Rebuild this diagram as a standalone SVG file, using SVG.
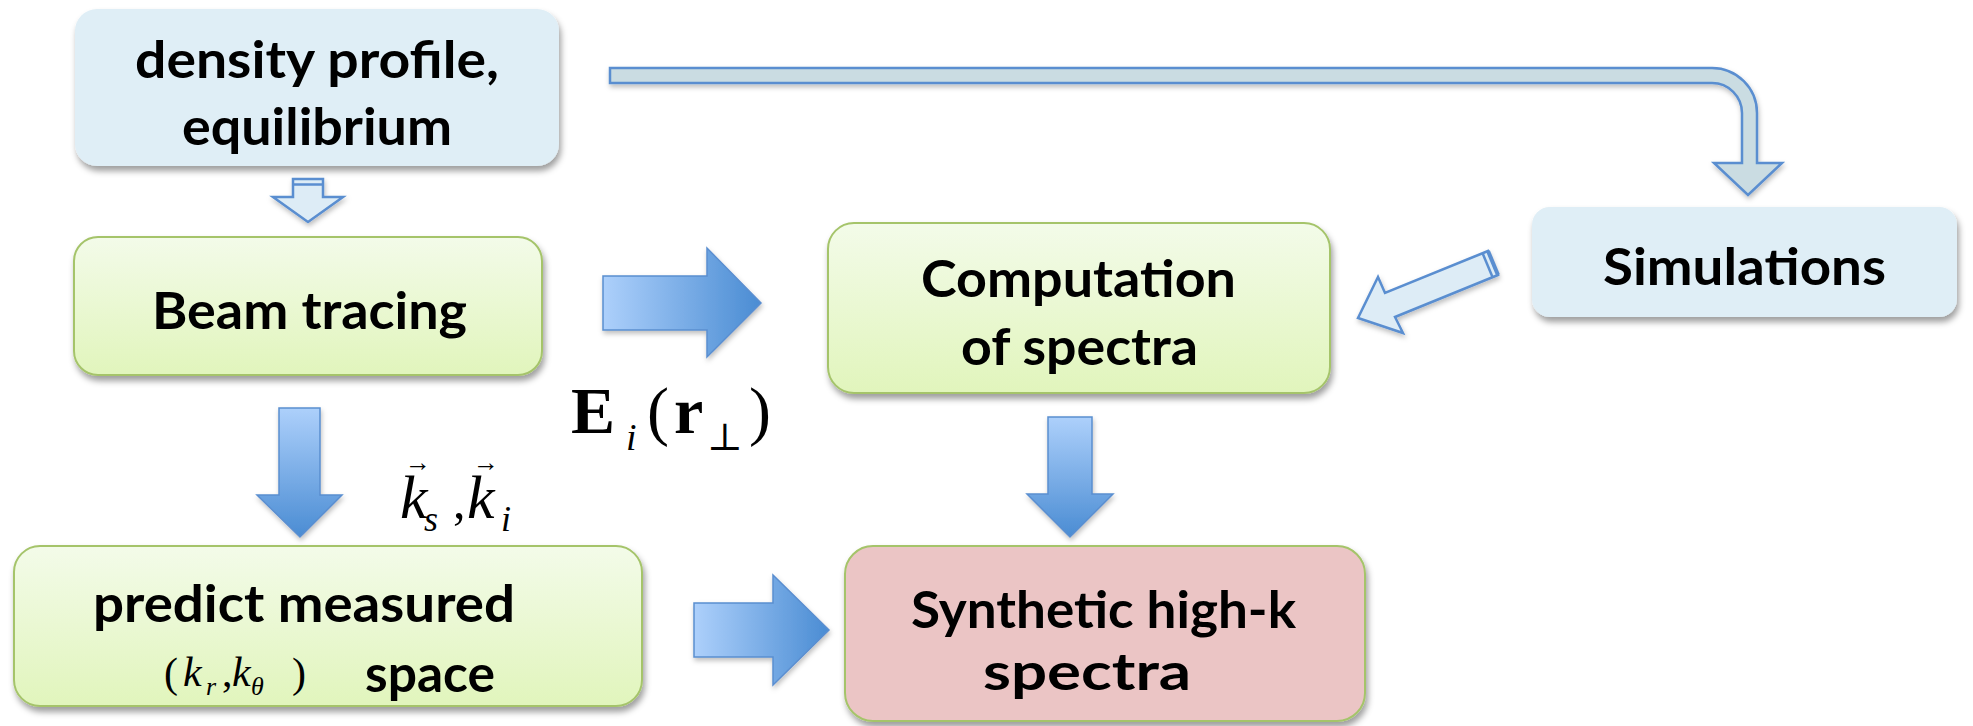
<svg xmlns="http://www.w3.org/2000/svg" width="1973" height="726" viewBox="0 0 1973 726">
  <defs>
    <linearGradient id="greenFill" x1="0" y1="0" x2="0" y2="1">
      <stop offset="0" stop-color="#F3FBE9"/>
      <stop offset="1" stop-color="#E1F5BC"/>
    </linearGradient>
    <linearGradient id="arrowH" x1="0" y1="0" x2="1" y2="0">
      <stop offset="0" stop-color="#ADD0FB"/>
      <stop offset="1" stop-color="#4A8CD3"/>
    </linearGradient>
    <linearGradient id="arrowV" x1="0" y1="0" x2="0" y2="1">
      <stop offset="0" stop-color="#ADD0FB"/>
      <stop offset="1" stop-color="#4A8CD3"/>
    </linearGradient>
    <filter id="shadow" x="-10%" y="-10%" width="120%" height="130%">
      <feDropShadow dx="2" dy="5" stdDeviation="3" flood-color="#000" flood-opacity="0.38"/>
    </filter>
    <filter id="softShadow" x="-10%" y="-10%" width="130%" height="130%">
      <feDropShadow dx="1" dy="3" stdDeviation="2.5" flood-color="#000" flood-opacity="0.25"/>
    </filter>
  </defs>
  <style>
    .box-blue { fill: #DFEEF6; filter: url(#shadow); }
    .box-green { fill: url(#greenFill); stroke: #A5C46B; stroke-width: 2; filter: url(#shadow); }
    .box-pink { fill: #EBC5C5; stroke: #A5C46B; stroke-width: 2; filter: url(#shadow); }
    .label { font-family: Lato, "Open Sans", "Liberation Sans", sans-serif; font-weight: bold; font-size: 52px; fill: #000; }
    .math { font-family: "Liberation Serif", "DejaVu Serif", serif; fill: #000; }
    .solid-h { fill: url(#arrowH); stroke: #5A8ED0; stroke-width: 1.5; filter: url(#softShadow); }
    .solid-v { fill: url(#arrowV); stroke: #5A8ED0; stroke-width: 1.5; filter: url(#softShadow); }
    .hollow { fill: #DDECF6; stroke: #5A8ED0; stroke-width: 2.5; stroke-linejoin: miter; filter: url(#softShadow); }
    .bent { fill: #CADCE2; stroke: #5A8ED0; stroke-width: 2.5; filter: url(#softShadow); }
    .band { stroke: #5A8ED0; stroke-width: 2.5; fill: none; }
  </style>

  <rect width="1973" height="726" fill="#FFFFFF"/>

  <!-- connectors -->
  <g id="connectors">
    <!-- bent arrow: density profile -> Simulations -->
    <path class="bent" d="M610,68 H1712 A45,45 0 0 1 1757,113 V163 H1782 L1748,195 L1714,163 H1742 V113 A30,30 0 0 0 1712,83 H610 Z"/>
    <!-- short hollow arrow: density profile -> Beam tracing -->
    <path class="hollow" d="M293,179 H323 V197 H343 L308,222 L273,197 H293 Z"/>
    <line class="band" x1="293" y1="184.5" x2="323" y2="184.5"/>
    <!-- diagonal hollow arrow: Simulations -> Computation -->
    <path class="hollow" d="M1488,251 L1385,293 L1378,277 L1358,318 L1403,333 L1395,317 L1498,275 Z"/>
    <line class="band" x1="1482.6" y1="253.3" x2="1492.6" y2="277.3"/>
    <line x1="1488" y1="251" x2="1498" y2="275" stroke="#5A8ED0" stroke-width="4"/>
    <!-- Beam tracing -> Computation -->
    <path class="solid-h" d="M603,276 H707 V248 L761,303 L707,357 V330 H603 Z"/>
    <!-- predict measured -> Synthetic -->
    <path class="solid-h" d="M694,603 H773 V575 L829,630 L773,685 V657 H694 Z"/>
    <!-- Beam tracing -> predict measured -->
    <path class="solid-v" d="M279,408 H320 V495 H342 L300,537 L257,495 H279 Z"/>
    <!-- Computation -> Synthetic -->
    <path class="solid-v" d="M1048,417 H1092 V494 H1113 L1070,537 L1027,494 H1048 Z"/>
  </g>

  <!-- connector labels -->
  <g id="field-label">
    <text class="math" font-size="66" font-weight="bold" x="571" y="433">E</text>
    <text class="math" font-size="38" font-style="italic" x="626" y="450">i</text>
    <text class="math" font-size="66" x="647" y="433">(</text>
    <text class="math" font-size="66" font-weight="bold" x="674" y="433">r</text>
    <text class="math" font-size="38" x="707" y="450">⊥</text>
    <text class="math" font-size="66" x="749" y="433">)</text>
  </g>
  <g id="wavevector-label">
    <text class="math" font-size="26" x="405" y="471">→</text>
    <text class="math" font-size="62" font-style="italic" x="400" y="518">k</text>
    <text class="math" font-size="36" font-style="italic" x="424" y="531">s</text>
    <text class="math" font-size="50" x="453" y="518">,</text>
    <text class="math" font-size="26" x="473" y="471">→</text>
    <text class="math" font-size="62" font-style="italic" x="467" y="518">k</text>
    <text class="math" font-size="36" font-style="italic" x="501" y="531">i</text>
  </g>

  <!-- nodes -->
  <g id="node-density">
    <rect class="box-blue" x="75" y="9" width="484" height="157" rx="22"/>
    <text class="label" x="135" y="78" textLength="364" lengthAdjust="spacingAndGlyphs">density profile,</text>
    <text class="label" x="182" y="145" textLength="270" lengthAdjust="spacingAndGlyphs">equilibrium</text>
  </g>

  <g id="node-simulations">
    <rect class="box-blue" x="1532" y="207" width="425" height="110" rx="18"/>
    <text class="label" x="1603" y="285" textLength="283" lengthAdjust="spacingAndGlyphs">Simulations</text>
  </g>

  <g id="node-beam">
    <rect class="box-green" x="74" y="237" width="468" height="138" rx="24"/>
    <text class="label" x="152" y="329" textLength="315" lengthAdjust="spacingAndGlyphs">Beam tracing</text>
  </g>

  <g id="node-computation">
    <rect class="box-green" x="828" y="223" width="502" height="170" rx="26"/>
    <text class="label" x="921" y="297" textLength="315" lengthAdjust="spacingAndGlyphs">Computation</text>
    <text class="label" x="961" y="365" textLength="237" lengthAdjust="spacingAndGlyphs">of spectra</text>
  </g>

  <g id="node-predict">
    <rect class="box-green" x="14" y="546" width="628" height="160" rx="26"/>
    <text class="label" x="93" y="622" textLength="422" lengthAdjust="spacingAndGlyphs">predict measured</text>
    <text class="math" font-size="42" x="164" y="687">(</text>
    <text class="math" font-size="42" font-style="italic" x="183" y="686">k</text>
    <text class="math" font-size="26" font-style="italic" x="206" y="695">r</text>
    <text class="math" font-size="42" x="222" y="686">,</text>
    <text class="math" font-size="42" font-style="italic" x="232" y="686">k</text>
    <text class="math" font-size="26" font-style="italic" x="251" y="695">θ</text>
    <text class="math" font-size="42" x="292" y="687">)</text>
    <text class="label" x="365" y="692" textLength="130" lengthAdjust="spacingAndGlyphs">space</text>
  </g>

  <g id="node-synthetic">
    <rect class="box-pink" x="845" y="546" width="520" height="175" rx="28"/>
    <text class="label" x="911" y="628" textLength="385" lengthAdjust="spacingAndGlyphs">Synthetic high-k</text>
    <text class="label" x="983" y="690" textLength="208" lengthAdjust="spacingAndGlyphs">spectra</text>
  </g>
</svg>
